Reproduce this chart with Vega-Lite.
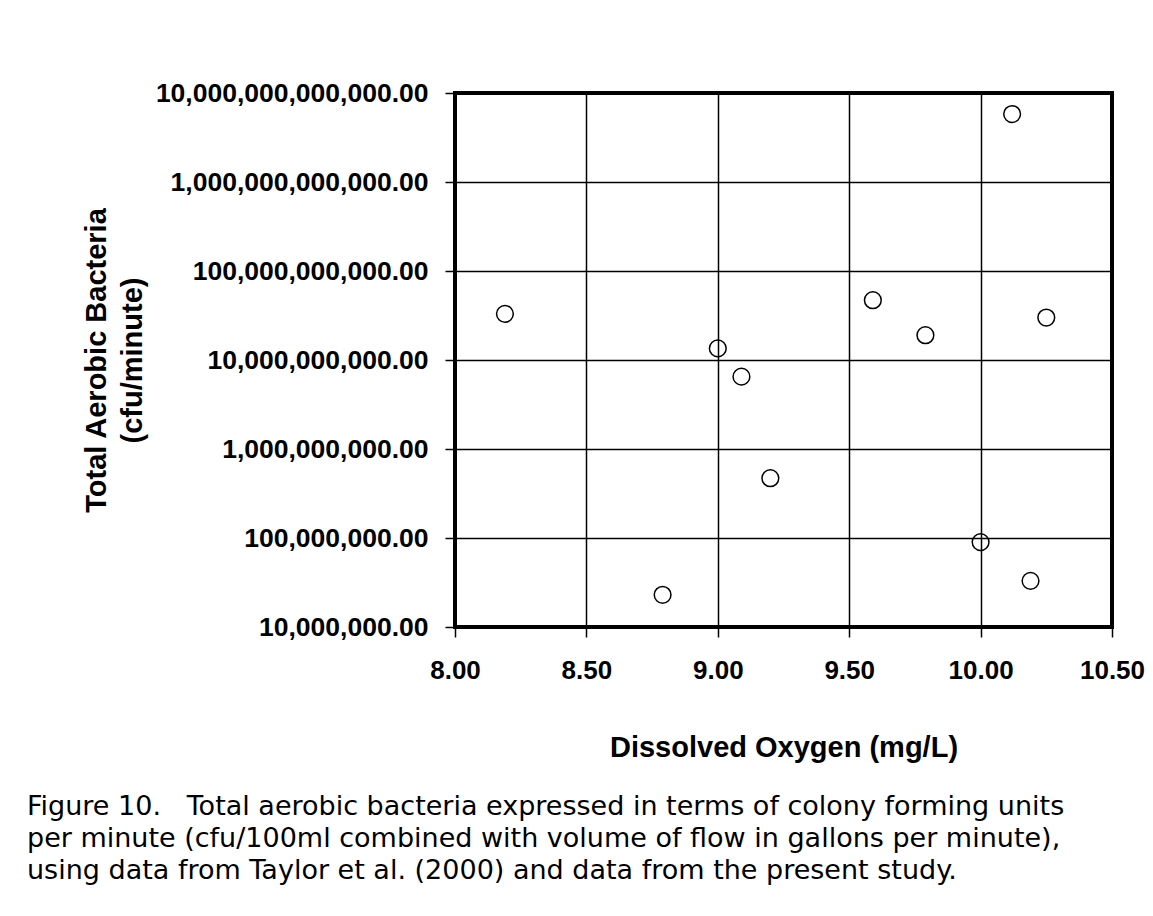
{
  "$schema": "https://vega.github.io/schema/vega-lite/v6.json",
  "width": 657,
  "height": 534,
  "autosize": {"type": "none"},
  "padding": {"left": 455, "top": 93, "right": 41, "bottom": 289},
  "background": "white",
  "config": {
    "view": {"stroke": "black", "strokeWidth": 4},
    "font": "Liberation Sans"
  },
  "title": {
    "text": [
      "Figure 10.\u00a0\u00a0 Total aerobic bacteria expressed in terms of colony forming units",
      "per minute (cfu/100ml combined with volume of flow in gallons per minute),",
      "using data from Taylor et al. (2000) and data from the present study."
    ],
    "orient": "bottom",
    "anchor": "start",
    "frame": "group",
    "dx": -428,
    "offset": 32,
    "font": "DejaVu Sans",
    "fontSize": 27,
    "fontWeight": "normal",
    "lineHeight": 32,
    "color": "black",
    "limit": 0
  },
  "data": {
    "values": [
      {"oxygen": 8.19, "bacteria": 33000000000},
      {"oxygen": 8.79, "bacteria": 23000000},
      {"oxygen": 9.00, "bacteria": 13500000000},
      {"oxygen": 9.09, "bacteria": 6500000000},
      {"oxygen": 9.20, "bacteria": 470000000},
      {"oxygen": 9.59, "bacteria": 47000000000},
      {"oxygen": 9.79, "bacteria": 19000000000},
      {"oxygen": 10.00, "bacteria": 90000000},
      {"oxygen": 10.12, "bacteria": 5800000000000},
      {"oxygen": 10.19, "bacteria": 33000000},
      {"oxygen": 10.25, "bacteria": 30000000000}
    ]
  },
  "mark": {"type": "point", "shape": "circle", "filled": false, "stroke": "black", "strokeWidth": 1.5, "size": 280, "opacity": 1},
  "encoding": {
    "x": {
      "field": "oxygen",
      "type": "quantitative",
      "scale": {"domain": [8, 10.5], "nice": false, "zero": false},
      "axis": {
        "title": "Dissolved Oxygen (mg/L)",
        "values": [8, 8.5, 9, 9.5, 10, 10.5],
        "format": ".2f",
        "labelFont": "Liberation Sans",
        "labelFontSize": 26,
        "labelFontWeight": "bold",
        "labelColor": "black",
        "labelPadding": 20,
        "labelFlush": false,
        "labelOverlap": false,
        "labelLimit": 500,
        "tickSize": 10,
        "tickColor": "black",
        "tickWidth": 1.5,
        "domain": false,
        "grid": true,
        "gridColor": "black",
        "gridWidth": 1.5,
        "gridOpacity": 1,
        "titleFont": "Liberation Sans",
        "titleFontSize": 29,
        "titleFontWeight": "bold",
        "titleColor": "black",
        "titlePadding": 50,
        "titleLimit": 1000
      }
    },
    "y": {
      "field": "bacteria",
      "type": "quantitative",
      "scale": {"type": "log", "domain": [10000000, 10000000000000], "nice": false},
      "axis": {
        "title": ["Total Aerobic Bacteria", "(cfu/minute)"],
        "values": [10000000, 100000000, 1000000000, 10000000000, 100000000000, 1000000000000, 10000000000000],
        "format": ",.2f",
        "labelFont": "Liberation Sans",
        "labelFontSize": 26.5,
        "labelFontWeight": "bold",
        "labelColor": "black",
        "labelPadding": 17,
        "labelFlush": false,
        "labelOverlap": false,
        "labelLimit": 500,
        "tickSize": 10,
        "tickColor": "black",
        "tickWidth": 1.5,
        "domain": false,
        "grid": true,
        "gridColor": "black",
        "gridWidth": 1.5,
        "gridOpacity": 1,
        "titleFont": "Liberation Sans",
        "titleFontSize": 29,
        "titleFontWeight": "bold",
        "titleColor": "black",
        "titleLineHeight": 36,
        "titlePadding": 108,
        "titleLimit": 1000
      }
    }
  }
}
